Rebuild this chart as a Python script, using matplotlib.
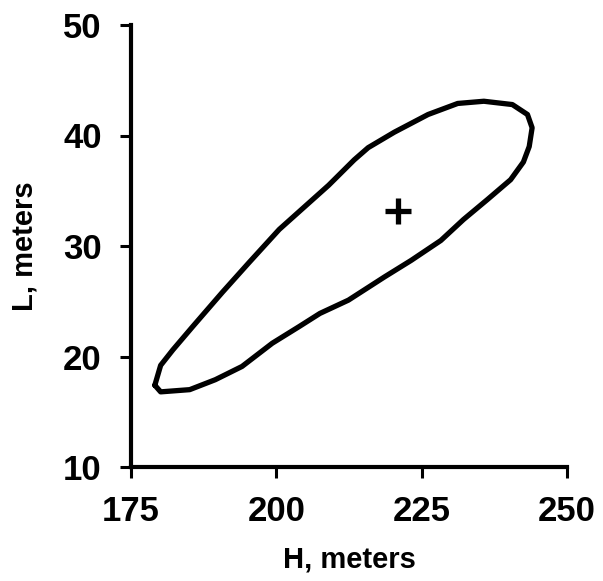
import matplotlib
matplotlib.use("Agg")
import matplotlib.pyplot as plt

# Confidence-region contour (H, L) in meters
contour_H = [179.1, 180.1, 182.2, 185.6, 190.7, 195.3, 200.5, 205.6, 209.0, 213.4,
             215.8, 220.3, 226.1, 231.2, 235.7, 240.6, 243.2, 244.0, 243.5, 242.5,
             240.3, 236.3, 232.2, 228.3, 223.2, 218.6, 212.4, 207.5, 203.9, 199.3,
             194.1, 189.5, 185.1, 180.1, 179.1]
contour_L = [17.4, 19.2, 20.6, 22.7, 25.8, 28.5, 31.5, 33.9, 35.5, 37.8,
             38.9, 40.3, 41.9, 42.9, 43.1, 42.8, 41.9, 40.7, 39.0, 37.6,
             36.0, 34.2, 32.4, 30.5, 28.7, 27.2, 25.1, 23.9, 22.7, 21.2,
             19.1, 17.9, 17.0, 16.8, 17.4]

# Best estimate
best_H = [221.0]
best_L = [33.2]

x_ticks = [175, 200, 225, 250]
y_ticks = [10, 20, 30, 40, 50]
x_label = "H, meters"
y_label = "L, meters"

plt.rcParams['font.family'] = ['Liberation Sans', 'DejaVu Sans']
plt.rcParams['font.weight'] = 'bold'

fig = plt.figure(figsize=(6.03, 5.81), dpi=100)
ax = fig.add_axes([131/603, 1-467/581, (567-131)/603, (467-25)/581])

ax.plot(contour_H, contour_L, color='black', lw=3.8, solid_joinstyle='round',
        solid_capstyle='round')
ax.plot(best_H, best_L, marker='+', color='black', markersize=19, mew=3.8,
        linestyle='none')

ax.set_xlim(175, 250)
ax.set_ylim(10, 50)
ax.set_xticks(x_ticks)
ax.set_yticks(y_ticks)
ax.set_xticklabels([str(v) for v in x_ticks], fontsize=25, fontweight='bold')
ax.set_yticklabels([str(v) for v in y_ticks], fontsize=25, fontweight='bold')

for s in ['top', 'right']:
    ax.spines[s].set_visible(False)
for s in ['left', 'bottom']:
    ax.spines[s].set_linewidth(3.0)
ax.tick_params(axis='both', direction='out', length=8, width=2.2, color='black')
ax.tick_params(axis='x', pad=12)
ax.tick_params(axis='y', pad=13)

ax.set_xlabel(x_label, fontsize=21, fontweight='bold')
ax.set_ylabel(y_label, fontsize=21, fontweight='bold')
ax.xaxis.set_label_coords(0.5, -0.178)
ax.yaxis.set_label_coords(-0.213, 0.5)

fig.savefig("out.png", dpi=100, facecolor='white')
